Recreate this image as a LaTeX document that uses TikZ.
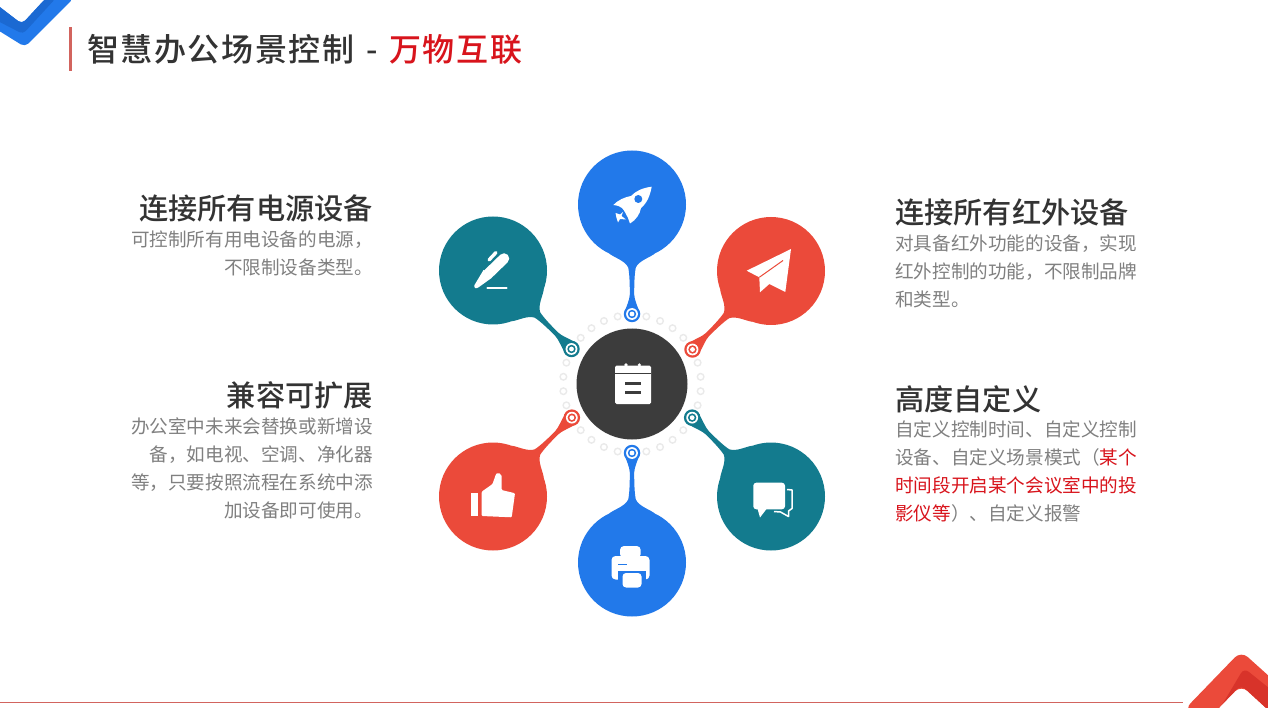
\documentclass[tikz,border=0pt]{standalone}
\usepackage{fontspec}
\setmainfont[BoldFont={Noto Sans CJK SC Medium}]{Noto Sans CJK SC}
\newfontfamily\cjktitle[LetterSpace=5,BoldFont={Noto Sans CJK SC Medium},BoldFeatures={LetterSpace=5}]{Noto Sans CJK SC}
\definecolor{cblue}{HTML}{2279EA}
\definecolor{cbluedark}{HTML}{1B69D2}
\definecolor{cteal}{HTML}{137B8E}
\definecolor{cred}{HTML}{EB4A3A}
\definecolor{creddark}{HTML}{D8332A}
\definecolor{cdark}{HTML}{3C3C3C}
\definecolor{ctext}{HTML}{808080}
\definecolor{chead}{HTML}{333333}
\definecolor{cemph}{HTML}{D8141C}
\definecolor{crule}{HTML}{D2645E}
\definecolor{cring}{HTML}{EAEAEA}
\tikzset{
  hub/.style={circle,inner sep=0pt,minimum size=108pt},
  pinout/.style={circle,inner sep=0pt,minimum size=16.5pt},
  headtext/.style={inner sep=0pt,text=chead,font=\bfseries\fontsize{29.2}{34}\selectfont},
  bodytext/.style={inner sep=0pt,text=ctext,font=\fontsize{18.6}{28}\selectfont},
  icon/.style={fill=white,draw=none},
}
\newcommand{\dropshape}[6]{% name, cx, cy, angle, colour, pin distance
  \begin{scope}[shift={(#2,#3)},rotate=#4]
    \fill[#5] (49,22.8) .. controls (53,18) and (56,7) .. (63,3.8)
      .. controls (70,2.3) and (82,2.2) .. (90,2.2)
      .. controls (96,2.6) and (100,5) .. (#6,8)
      -- (#6,-8)
      .. controls (100,-5) and (96,-2.6) .. (90,-2.2)
      .. controls (82,-2.2) and (70,-2.3) .. (63,-3.8)
      .. controls (56,-7) and (53,-18) .. (49,-22.8) -- cycle;
    \node[hub,fill=#5] (#1) at (0,0) {};
    \node[pinout,fill=#5] (#1pin) at (#6,0) {};
    \fill[white] (#6,0) circle (5.9);
    \fill[#5] (#6,0) circle (4.2);
    \fill[white] (#6,0) circle (2.4);
  \end{scope}
}
\begin{document}
\begin{tikzpicture}[x=1pt,y=-1pt]
\useasboundingbox (0,0) rectangle (1268,708);
\clip (0,0) rectangle (1268,708);
\fill[white] (0,0) rectangle (1268,708);

% top-left chevron
\fill[cblue,rounded corners=5pt] (-12,-2) -- (22,24) -- (46,-2) -- (74,-2) -- (25,47) -- (-12,24) -- cycle;
\fill[cbluedark,rounded corners=4pt] (-12,-2) -- (22,24) -- (46,-2) -- (56,-2) -- (23,34) -- (-12,16) -- cycle;

% title
\fill[crule] (69,27) rectangle (71.5,71);
\node[inner sep=0pt,anchor=west,text=chead,font=\cjktitle\bfseries\fontsize{32}{36}\selectfont] (title) at (87,49.5) {智慧办公场景控制\hspace{3pt} - \hspace{3pt}\textcolor{cemph}{万物互联}};

% bottom rule and bottom-right chevron
\fill[crule] (0,701.6) rectangle (1183,703);
\fill[cred,rounded corners=9pt] (1184,710) -- (1241,651) -- (1290,695) -- (1290,730) -- (1241,685) -- (1212,715) -- cycle;
\fill[creddark,rounded corners=6pt] (1222,705) -- (1244,668) -- (1290,705) -- (1290,730) -- (1241,685) -- (1212,715) -- cycle;

% dotted ring around the centre
\foreach \a in {6,18,42,54,66,78,102,114,126,138,162,174,186,198,222,234,246,258,282,294,306,318,342,354}
  \draw[cring,line width=1.4pt] (632,384) ++(\a:69) circle (3.3);

% droplets
\dropshape{pen}{493}{270.5}{-45}{cteal}{111}
\dropshape{rocket}{632}{204.5}{-90}{cblue}{109.5}
\dropshape{plane}{771}{271}{-135}{cred}{111}
\dropshape{thumb}{493}{496.5}{45}{cred}{111.5}
\dropshape{chat}{771}{496.5}{135}{cteal}{111.5}
\dropshape{printer}{632}{562.5}{90}{cblue}{109.5}

% centre
\node[hub,fill=cdark,minimum size=111pt] (centre) at (632,384) {};
\fill[white,rounded corners=1.5pt] (615,365.7) rectangle (651,404);
\fill[white] (626,365) circle (1.8) (639.3,365) circle (1.8);
\draw[cdark,line width=1.2pt] (615,373.3) -- (651,373.3);
\draw[cdark,line width=2.4pt] (625,383.3) -- (640.7,383.3) (625,392.3) -- (640.7,392.3);

% rocket icon
\fill[icon] (651.7,186.7) .. controls (642,188) and (636,191) .. (631,196)
  .. controls (625,197) and (618,200) .. (613.3,205)
  .. controls (617,205.5) and (620,206) .. (622,208)
  .. controls (624,210) and (626,214) .. (628,218)
  -- (630,223.5) .. controls (636,220) and (640,214) .. (641,208)
  .. controls (647,203) and (650,196) .. (651.7,186.7) -- cycle;
\fill[cblue] (638.3,199) circle (4);
\fill[icon] (615.5,213) -- (620,214.5) -- (623,212) -- (621.5,216) -- (626,219.5) -- (620,219) -- (618,222.5) -- (616.5,218) -- cycle;

% paper plane icon
\fill[icon] (791,249) -- (746.7,270.7) -- (759.3,277.3) -- (760,292.3) -- (769.3,284) -- (785.3,292) -- cycle;
\draw[cred,line width=1pt] (759.3,277.3) -- (783,260.5);

% pen icon
\draw[white,line width=10.5pt,line cap=round] (504,258.5) -- (488,274);
\fill[icon] (483.5,270) -- (491.5,278) -- (479,287) .. controls (476,289.5) and (473.5,288) .. (474.5,285) -- cycle;
\draw[white,line width=3.4pt,line cap=round] (489,260) -- (496,252.5);
\draw[white,line width=2.4pt,line cap=round] (487.5,288.2) -- (506.5,288.2);

% thumb icon
\fill[icon] (470.7,493.3) rectangle (478.3,516);
\fill[icon,rounded corners=1pt] (481.7,491.7) -- (492.5,484) -- (496,474) .. controls (498,472.5) and (501.5,473.5) .. (501.7,477) -- (501.7,490) -- (515,493.3) -- (511.7,517.3) -- (481.7,516) -- cycle;

% chat icon
\fill[icon,rounded corners=3pt] (753.3,482.7) rectangle (785,509.3);
\fill[icon] (757,507) -- (760,517.5) -- (768,507) -- cycle;
\draw[white,line width=1.5pt,line join=round] (787,489.5) -- (792,490) -- (792,508.5) -- (788.5,511) -- (788.5,516.5) -- (780.5,512) -- (774,511.5);

% printer icon
\fill[icon,rounded corners=4pt] (620,546) rectangle (640.7,558);
\fill[icon,rounded corners=4pt] (611.5,556) rectangle (649.5,579.5);
\draw[cblue,line width=1.4pt] (618.3,564.7) -- (627,564.7);
\fill[cblue] (618,571) rectangle (646,580);
\fill[icon,rounded corners=3.5pt] (622.5,573) rectangle (641.5,587.5);

% left texts
\node[headtext,anchor=east] (h1) at (373,208) {连接所有电源设备};
\node[bodytext,anchor=east,align=right] (b1) at (373,253) {可控制所有用电设备的电源，\\不限制设备类型。};
\node[headtext,anchor=east] (h2) at (373,395) {兼容可扩展};
\node[bodytext,anchor=east,align=right] (b2) at (373,468) {办公室中未来会替换或新增设\\备，如电视、空调、净化器\\等，只要按照流程在系统中添\\加设备即可使用。};

% right texts
\node[headtext,anchor=west] (h3) at (895,212) {连接所有红外设备};
\node[bodytext,anchor=west,align=left] (b3) at (895,271) {对具备红外功能的设备，实现\\红外控制的功能，不限制品牌\\和类型。};
\node[headtext,anchor=west] (h4) at (895,399) {高度自定义};
\node[bodytext,anchor=west,align=left] (b4) at (895,472) {自定义控制时间、自定义控制\\设备、自定义场景模式（\textcolor{cemph}{某个}\\\textcolor{cemph}{时间段开启某个会议室中的投}\\\textcolor{cemph}{影仪等}）、自定义报警};
\end{tikzpicture}
\end{document}
